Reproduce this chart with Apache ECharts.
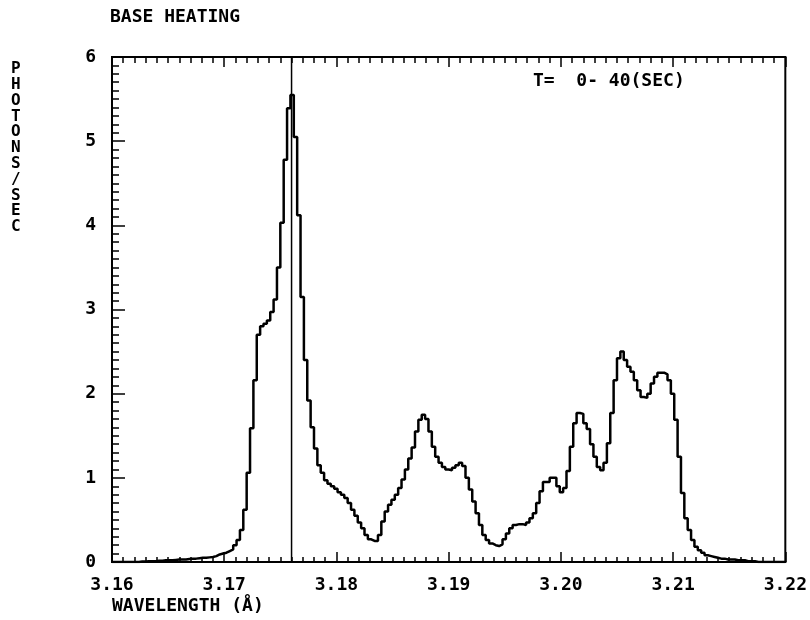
<!DOCTYPE html>
<html>
<head>
<meta charset="utf-8">
<script src="https://cdn.jsdelivr.net/npm/echarts@6/dist/echarts.min.js"></script>
<style>
  html, body { margin: 0; padding: 0; background: #fff; }
  #chart { width: 810px; height: 620px; }
</style>
</head>
<body>
<div id="chart"></div>
<script>
// Spectrum histogram: photon rate per wavelength bin
const binStart = 3.16;      // Å, left edge of first bin
const binWidth = 0.0003;    // Å per bin
const photons = [
  0, 0, 0, 0, 0, 0, 0, 0,
  0.005, 0.005, 0.01, 0.01, 0.01, 0.015, 0.015, 0.02,
  0.02, 0.02, 0.025, 0.03, 0.03, 0.03, 0.035, 0.04,
  0.04, 0.045, 0.05, 0.05, 0.055, 0.06, 0.07, 0.09,
  0.10, 0.11, 0.13, 0.15, 0.20, 0.26, 0.38, 0.62,
  1.06, 1.59, 2.16, 2.70, 2.80, 2.83, 2.87, 2.97,
  3.12, 3.50, 4.03, 4.78, 5.39, 5.55, 5.05, 4.12,
  3.15, 2.40, 1.92, 1.60, 1.35, 1.15, 1.06, 0.97,
  0.93, 0.90, 0.87, 0.83, 0.80, 0.76, 0.70, 0.62,
  0.55, 0.47, 0.40, 0.32, 0.27, 0.25, 0.25, 0.32,
  0.48, 0.60, 0.68, 0.74, 0.80, 0.88, 0.98, 1.10,
  1.23, 1.36, 1.55, 1.69, 1.75, 1.70, 1.55, 1.37,
  1.25, 1.18, 1.13, 1.10, 1.09, 1.12, 1.15, 1.18,
  1.14, 1.00, 0.86, 0.72, 0.58, 0.44, 0.32, 0.26,
  0.22, 0.20, 0.19, 0.21, 0.27, 0.34, 0.40, 0.44,
  0.45, 0.45, 0.44, 0.47, 0.52, 0.58, 0.70, 0.84,
  0.95, 0.95, 1.00, 1.00, 0.90, 0.83, 0.88, 1.08,
  1.37, 1.65, 1.77, 1.76, 1.65, 1.58, 1.40, 1.25,
  1.13, 1.09, 1.18, 1.41, 1.77, 2.16, 2.42, 2.50,
  2.40, 2.32, 2.26, 2.16, 2.04, 1.96, 1.95, 2.00,
  2.12, 2.20, 2.25, 2.25, 2.23, 2.16, 2.00, 1.69,
  1.25, 0.82, 0.52, 0.38, 0.26, 0.18, 0.14, 0.11,
  0.08, 0.07, 0.06, 0.05, 0.04, 0.04, 0.03, 0.03,
  0.03, 0.02, 0.02, 0.02, 0.01, 0.01, 0.01, 0,
  0, 0, 0, 0, 0, 0, 0, 0
];

// Axis ranges and tick steps
const xRange = [3.16, 3.22];
const xStep = 0.01;
const yRange = [0, 6];
const yStep = 1;

// Reference wavelength marker, drawn across the full height
const markerWavelength = 3.1760;

// Texts
const titleText = 'BASE HEATING';
const timeNote = 'T=  0- 40(SEC)';
const yTitle = 'PHOTONS/SEC';
const xTitle = 'WAVELENGTH (Å)';

const FONT = 'DejaVu Sans Mono';

// Step points: each bin's left edge, plus the closing right edge
const points = photons.map((v, i) => [+(binStart + i * binWidth).toFixed(5), v]);
points.push([+(binStart + photons.length * binWidth).toFixed(5), photons[photons.length - 1]]);

const axisLineStyle = { color: '#000', width: 2 };
const labelStyle = { color: '#000', fontFamily: FONT, fontWeight: 'bold', fontSize: 18 };

const chart = echarts.init(document.getElementById('chart'), null, { renderer: 'canvas' });

chart.setOption({
  animation: false,
  backgroundColor: '#fff',
  grid: {
    left: 112, right: 20, top: 57, bottom: 58,
    show: true, borderColor: '#000', borderWidth: 2, backgroundColor: 'transparent'
  },
  xAxis: [
    {
      type: 'value', position: 'bottom',
      min: xRange[0], max: xRange[1], interval: xStep,
      axisLine: { show: true, onZero: false, lineStyle: axisLineStyle },
      axisTick: { show: true, inside: true, length: 10, lineStyle: { color: '#000', width: 1.5 } },
      minorTick: { show: true, splitNumber: 10, length: 5, lineStyle: { color: '#000', width: 1.5 } },
      axisLabel: Object.assign({ margin: 14, formatter: v => v.toFixed(2) }, labelStyle),
      splitLine: { show: false }
    },
    {
      type: 'value', position: 'top',
      min: xRange[0], max: xRange[1], interval: xStep,
      axisLine: { show: true, onZero: false, lineStyle: axisLineStyle },
      axisTick: { show: true, inside: true, length: 10, lineStyle: { color: '#000', width: 1.5 } },
      minorTick: { show: true, splitNumber: 10, length: 6, lineStyle: { color: '#000', width: 1.5 } },
      axisLabel: { show: false },
      splitLine: { show: false }
    }
  ],
  yAxis: {
    type: 'value', position: 'left',
    min: yRange[0], max: yRange[1], interval: yStep,
    axisLine: { show: true, onZero: false, lineStyle: axisLineStyle },
    axisTick: { show: true, inside: true, length: 13, lineStyle: { color: '#000', width: 1.5 } },
    minorTick: { show: true, splitNumber: 10, length: 7, lineStyle: { color: '#000', width: 1.5 } },
    axisLabel: Object.assign({ margin: 16 }, labelStyle),
    splitLine: { show: false }
  },
  series: [
    {
      type: 'line',
      xAxisIndex: 0,
      step: 'end',
      data: points,
      showSymbol: false,
      symbol: 'none',
      clip: true,
      lineStyle: { color: '#000', width: 2.5 }
    },
    {
      // vertical marker line
      type: 'line',
      xAxisIndex: 0,
      data: [[markerWavelength, yRange[0]], [markerWavelength, yRange[1]]],
      showSymbol: false,
      symbol: 'none',
      silent: true,
      lineStyle: { color: '#000', width: 1.5 }
    }
  ],
  graphic: [
    {
      type: 'text', left: 110, top: 8,
      style: { text: titleText, fill: '#000', font: `bold 18px "${FONT}"` }
    },
    {
      type: 'text', left: 533, top: 72,
      style: { text: timeNote, fill: '#000', font: `bold 18px "${FONT}"` }
    },
    {
      type: 'text', left: 11, top: 61,
      style: {
        text: yTitle.split('').join('\n'),
        fill: '#000', font: `bold 16px "${FONT}"`,
        lineHeight: 15.8, align: 'left'
      }
    },
    {
      type: 'text', left: 112, top: 597,
      style: { text: xTitle, fill: '#000', font: `bold 18px "${FONT}"` }
    }
  ]
});
</script>
</body>
</html>
